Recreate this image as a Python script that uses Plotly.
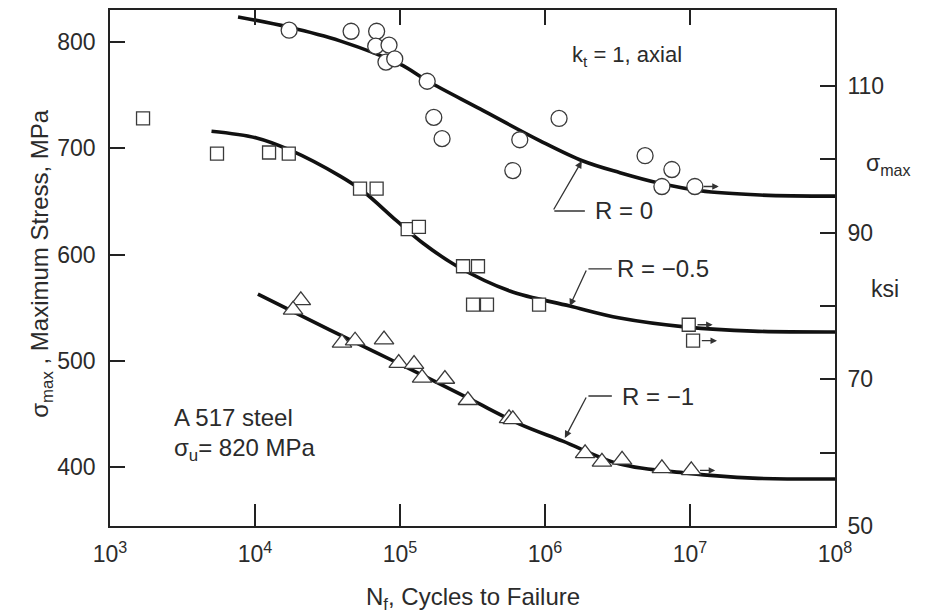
import numpy as np
import plotly.graph_objects as go

# ---------------- data ----------------
# R = 0 (circles)
r0_N = [1.72e4, 4.6e4, 6.9e4, 6.8e4, 8.4e4, 8.0e4, 9.2e4, 1.54e5, 1.71e5, 1.95e5,
        6.0e5, 6.7e5, 1.25e6, 4.9e6, 7.5e6, 6.4e6, 1.08e7]
r0_S = [811, 810, 810, 796, 797, 781, 784, 763, 729, 709,
        679, 708, 728, 693, 680, 664, 664]
r0_runout = [False] * 16 + [True]

# R = -0.5 (squares)
r05_N = [1.69e3, 5.47e3, 1.25e4, 1.71e4, 5.3e4, 6.9e4, 1.13e5, 1.35e5, 2.72e5, 3.45e5,
         3.19e5, 3.98e5, 9.1e5, 9.8e6, 1.05e7]
r05_S = [728, 695, 696, 695, 662, 662, 624, 626, 589, 589,
         553, 553, 553, 534, 519]
r05_runout = [False] * 13 + [True, True]

# R = -1 (triangles)
r1_N = [2.07e4, 1.83e4, 3.98e4, 4.9e4, 7.76e4, 9.8e4, 1.25e5, 1.42e5, 2.04e5, 2.94e5,
        5.65e5, 6.0e5, 1.89e6, 2.47e6, 3.4e6, 6.4e6, 1.02e7]
r1_S = [557, 548, 517, 519, 520, 498, 497, 484, 483, 463,
        446, 445, 413, 405, 407, 399, 397]
r1_runout = [False] * 16 + [True]

# fitted curves (log10 N, stress MPa)
c0_logN = [3.883, 4.228, 4.586, 5.0, 5.193, 5.552, 5.966, 6.262, 6.517, 6.793, 7.069, 7.483, 8.0]
c0_S = [823.5, 814, 801, 779, 763, 737, 707, 688, 677, 667, 660, 656, 655]

c05_logN = [3.700, 4.011, 4.239, 4.584, 4.743, 4.978, 5.157, 5.391, 5.757, 6.171, 6.516, 6.978, 7.434, 8.0]
c05_S = [716, 709.7, 698.4, 674, 659.8, 631.6, 610.9, 589.3, 565.8, 551.6, 540.3, 531.8, 528, 527.2]

c1_logN = [4.020, 4.515, 4.998, 5.481, 5.826, 6.123, 6.516, 6.978, 7.434, 8.0]
c1_S = [562.9, 529.1, 497.1, 464.2, 440.6, 424.6, 403, 394.5, 389.8, 388.9]

x_tick_exp = [3, 4, 5, 6, 7, 8]
y_ticks_mpa = [400, 500, 600, 700, 800]
y_ticks_ksi = [50, 60, 70, 80, 90, 100, 110]
y_ticks_ksi_text = ["50", "", "70", "", "90", "", "110"]

MPA_PER_KSI = 6.895
Y_TOP_MPA = 830

# ---------------- figure ----------------
FONT = "Liberation Sans, Arial, Helvetica, sans-serif"
TXT = "#2b2b2b"
AX = "#222222"
FS = 23

fig = go.Figure()

for lx, ly in [(c0_logN, c0_S), (c05_logN, c05_S), (c1_logN, c1_S)]:
    fig.add_trace(go.Scatter(
        x=10 ** np.array(lx), y=ly, mode="lines",
        line=dict(color="#111111", width=3.6, shape="spline", smoothing=1.0),
        hoverinfo="skip"))

for N, S, sym, size in [(r0_N, r0_S, "circle", 16),
                        (r05_N, r05_S, "square", 13),
                        (r1_N, r1_S, "triangle-up", 17)]:
    fig.add_trace(go.Scatter(
        x=N, y=S, mode="markers",
        marker=dict(symbol=sym, size=size, color="white",
                    line=dict(color="#3a3a3a", width=1.3))))

# invisible trace to anchor secondary axes
fig.add_trace(go.Scatter(x=[1e3], y=[60], xaxis="x2", yaxis="y2",
                         mode="markers", marker=dict(opacity=0), hoverinfo="skip"))

annotations = []

# run-out arrows
for N, S, flags in [(r0_N, r0_S, r0_runout), (r05_N, r05_S, r05_runout), (r1_N, r1_S, r1_runout)]:
    for n, s, f in zip(N, S, flags):
        if f:
            lg = np.log10(n)
            annotations.append(dict(
                x=lg + 0.165, y=s, ax=lg + 0.05, ay=s, xref="x", yref="y",
                axref="x", ayref="y", text="", showarrow=True,
                arrowhead=2, arrowsize=1.0, arrowwidth=1.3, arrowcolor="#333"))

# R labels with leaders: (tip logN, tip S, elbow logN, elbow S, end logN, text logN, label)
leaders = [
    (6.254, 688, 6.054, 641, 6.275, 6.33, "R = 0"),
    (6.171, 551.6, 6.289, 586.5, 6.461, 6.482, "R = \u22120.5"),
    (6.137, 427.5, 6.289, 467, 6.461, 6.516, "R = \u22121"),
]
for tx, ty, ex, ey, hx, lx, lab in leaders:
    annotations.append(dict(
        x=tx, y=ty, ax=ex, ay=ey, xref="x", yref="y", axref="x", ayref="y",
        text="", showarrow=True, arrowhead=2, arrowsize=1.1, arrowwidth=1.3,
        arrowcolor="#333"))
    annotations.append(dict(
        x=hx, y=ey, ax=ex, ay=ey, xref="x", yref="y", axref="x", ayref="y",
        text="", showarrow=True, arrowhead=0, arrowwidth=1.3, arrowcolor="#333"))
    annotations.append(dict(
        x=lx, y=ey, xref="x", yref="y", text=lab, showarrow=False,
        xanchor="left", yanchor="middle", font=dict(family=FONT, size=24, color=TXT)))

annotations += [
    dict(x=6.172, y=787, xref="x", yref="y", text="k<sub>t</sub> = 1, axial",
         showarrow=False, xanchor="left", yanchor="middle",
         font=dict(family=FONT, size=22, color=TXT)),
    dict(x=3.428, y=447, xref="x", yref="y", text="A 517 steel",
         showarrow=False, xanchor="left", yanchor="middle",
         font=dict(family=FONT, size=24, color=TXT)),
    dict(x=3.428, y=417, xref="x", yref="y", text="\u03c3<sub>u</sub>= 820 MPa",
         showarrow=False, xanchor="left", yanchor="middle",
         font=dict(family=FONT, size=24, color=TXT)),
    # axis titles
    dict(x=0.5, y=-0.14, xref="paper", yref="paper",
         text="N<sub>f</sub>, Cycles to Failure", showarrow=False,
         xanchor="center", yanchor="middle", font=dict(family=FONT, size=24, color=TXT)),
    dict(x=-0.094, y=0.51, xref="paper", yref="paper", textangle=-90,
         text="\u03c3<sub>max</sub> , Maximum Stress, MPa", showarrow=False,
         xanchor="center", yanchor="middle", font=dict(family=FONT, size=24, color=TXT)),
    dict(x=1.074, y=0.70, xref="paper", yref="paper",
         text="\u03c3<sub>max</sub>", showarrow=False,
         xanchor="center", yanchor="middle", font=dict(family=FONT, size=23, color=TXT)),
    dict(x=1.069, y=0.46, xref="paper", yref="paper",
         text="ksi", showarrow=False,
         xanchor="center", yanchor="middle", font=dict(family=FONT, size=23, color=TXT)),
]

tickfont = dict(family=FONT, size=FS, color=TXT)
axis_common = dict(showline=True, linecolor=AX, linewidth=1.7, ticks="inside",
                   tickcolor=AX, tickwidth=1.5, showgrid=False, zeroline=False)

fig.update_layout(
    width=941, height=613, autosize=False,
    margin=dict(l=110, r=106, t=10, b=87, pad=0),
    paper_bgcolor="white", plot_bgcolor="white",
    showlegend=False,
    xaxis=dict(type="log", range=[3, 8],
               tickvals=[10 ** e for e in x_tick_exp],
               ticktext=[f"10<sup>{e}</sup>" for e in x_tick_exp],
               ticklen=22, tickfont=tickfont, ticklabelstandoff=7, **axis_common),
    xaxis2=dict(type="log", range=[3, 8], overlaying="x", side="top",
                tickvals=[10 ** e for e in x_tick_exp], showticklabels=False,
                ticklen=15, **axis_common),
    yaxis=dict(range=[50 * MPA_PER_KSI, Y_TOP_MPA], tickvals=y_ticks_mpa,
               ticklen=15, tickfont=tickfont, ticklabelstandoff=8, **axis_common),
    yaxis2=dict(range=[50, Y_TOP_MPA / MPA_PER_KSI], overlaying="y", side="right",
                tickvals=y_ticks_ksi, ticktext=y_ticks_ksi_text,
                ticklen=15, tickfont=tickfont, ticklabelstandoff=6, **axis_common),
    annotations=annotations,
)

fig.write_html("out.html")
